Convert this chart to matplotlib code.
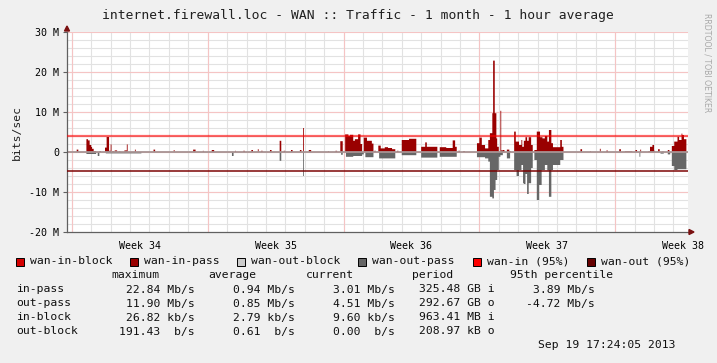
import numpy as np
import matplotlib
matplotlib.use("Agg")
import matplotlib.pyplot as plt
from matplotlib.patches import Rectangle, Polygon

W, H = 717, 363
MONO = "DejaVu Sans Mono"

# hourly runs: (start hour, end hour, Mb/s), hour 0 = left edge of the month window
in_pass_runs = [
    (12, 14, 0.6), (24, 26, 3.2), (26, 28, 2.9), (28, 30, 1.75), (30, 31, 1.25), (31, 33, 0.8),
    (33, 36, 0.25), (40, 42, 0.25), (47, 49, 1.1), (49, 52, 3.75), (52, 54, 0.3), (54, 55, 1.9),
    (56, 58, 0.25), (59, 62, 0.4), (64, 66, 0.15), (71, 74, 0.4), (74, 75, 1.9), (84, 85, 0.6),
    (107, 109, 0.6), (132, 133, 0.5), (156, 159, 0.6), (168, 169, 0.3), (179, 182, 0.5),
    (208, 209, 0.3), (218, 220, 0.3), (228, 230, 0.5), (236, 237, 0.7), (240, 242, 0.3),
    (251, 253, 0.5), (263, 265, 2.8), (268, 270, 0.3), (277, 279, 0.5), (288, 290, 0.5),
    (292, 293, 6.0), (299, 302, 0.5), (323, 324, 0.2), (332, 334, 0.3), (338, 341, 2.7),
    (344, 348, 4.4), (348, 350, 4.0), (350, 354, 4.3), (354, 356, 2.8), (356, 360, 3.2),
    (360, 363, 4.4), (363, 365, 2.0), (367, 371, 3.6), (371, 377, 2.8), (377, 379, 2.1),
    (380, 382, 0.3), (385, 388, 1.6), (388, 393, 0.9), (393, 397, 1.2), (397, 402, 1.0),
    (402, 406, 0.7), (408, 410, 0.3), (414, 423, 3.0), (423, 432, 3.3), (438, 443, 1.3),
    (443, 445, 2.4), (445, 458, 1.3), (461, 469, 1.2), (469, 477, 1.0), (477, 480, 2.9),
    (480, 482, 1.3), (484, 486, 0.3), (490, 492, 0.25), (507, 510, 2.2), (510, 513, 3.6),
    (513, 517, 1.75), (517, 521, 0.9), (521, 523, 3.0), (523, 526, 4.7), (526, 527, 9.7),
    (527, 529, 22.84), (529, 531, 9.7), (531, 532, 3.4), (532, 534, 1.3), (536, 537, 10.3),
    (537, 539, 0.4), (539, 541, 0.5), (544, 547, 0.6), (547, 549, 0.2), (553, 555, 5.1),
    (555, 559, 2.6), (559, 562, 1.75), (562, 563, 3.0), (563, 565, 1.3), (565, 567, 2.8),
    (567, 569, 3.7), (569, 571, 2.8), (571, 574, 3.7), (574, 576, 1.75), (578, 581, 0.5),
    (581, 585, 5.1), (585, 588, 3.7), (588, 591, 3.4), (591, 594, 4.0), (594, 596, 2.6),
    (596, 599, 5.5), (599, 601, 2.2), (601, 610, 1.2), (610, 612, 3.0), (612, 614, 1.3),
    (635, 637, 0.7), (647, 648, 0.2), (659, 660, 0.8), (667, 669, 0.35), (683, 685, 0.7),
    (690, 699, 0.2), (703, 705, 0.5), (709, 710, 0.6), (719, 721, 0.2), (721, 724, 1.3),
    (724, 726, 1.75), (726, 727, 0.3), (731, 733, 0.7), (736, 738, 0.1), (743, 745, 0.5),
    (748, 751, 1.5), (751, 755, 2.6), (755, 757, 3.8), (757, 760, 3.0), (760, 761, 4.6),
    (761, 763, 4.25), (763, 766, 3.2),
]

out_pass_runs = [
    (24, 36, 0.5), (38, 40, 1.0), (48, 92, 0.35), (204, 206, 1.0), (263, 265, 2.2),
    (292, 293, 6.0), (339, 341, 0.7), (345, 354, 1.2), (354, 365, 1.0), (365, 367, 0.6),
    (369, 379, 1.3), (386, 406, 1.6), (414, 432, 0.8), (438, 458, 1.4), (461, 482, 1.2),
    (507, 517, 1.3), (517, 521, 1.6), (521, 523, 2.4), (523, 526, 11.2), (526, 528, 11.6),
    (528, 530, 9.5), (530, 532, 7.0), (532, 534, 4.5), (534, 536, 1.2), (536, 539, 0.8),
    (544, 548, 1.6), (553, 556, 4.5), (556, 559, 6.0), (559, 562, 4.5), (562, 564, 3.25),
    (564, 565, 7.8), (565, 567, 8.0), (567, 569, 5.5), (569, 571, 10.5), (571, 574, 7.8),
    (574, 576, 4.0), (578, 581, 2.0), (581, 584, 12.0), (584, 587, 8.25), (587, 591, 4.5),
    (591, 594, 3.25), (594, 596, 4.6), (596, 599, 11.2), (599, 601, 4.5), (601, 610, 3.25),
    (610, 614, 2.0), (708, 709, 1.2), (734, 738, 0.4), (743, 746, 0.6), (748, 751, 3.5),
    (751, 755, 4.5), (755, 766, 4.3),
]

in_95 = 3.89
out_95 = -4.72

week_labels = ["Week 34", "Week 35", "Week 36", "Week 37", "Week 38"]
y_ticks = [-20, -10, 0, 10, 20, 30]
y_tick_labels = ["-20 M", "-10 M", "0", "10 M", "20 M", "30 M"]

legend_names = ["wan-in-block", "wan-in-pass", "wan-out-block", "wan-out-pass", "wan-in (95%)", "wan-out (95%)"]
legend_colors = ["#d40000", "#990000", "#cccccc", "#666666", "#ff0000", "#660000"]

headers = ["maximum", "average", "current", "period", "95th percentile"]
row_names = ["in-pass", "out-pass", "in-block", "out-block"]
row_values = [
    ["22.84 Mb/s", "0.94 Mb/s", "3.01 Mb/s", "325.48 GB i", "3.89 Mb/s"],
    ["11.90 Mb/s", "0.85 Mb/s", "4.51 Mb/s", "292.67 GB o", "-4.72 Mb/s"],
    ["26.82 kb/s", "2.79 kb/s", "9.60 kb/s", "963.41 MB i", ""],
    ["191.43  b/s", "0.61  b/s", "0.00  b/s", "208.97 kB o", ""],
]

HOURS = 768


def to_series(runs):
    vals = np.zeros(HOURS)
    for a, b, v in runs:
        vals[a:b] = v
    return vals


def fx(px):
    return px / W


def fy(py):
    return 1 - py / H


in_pass = to_series(in_pass_runs)
out_pass = to_series(out_pass_runs)
edges = np.arange(HOURS + 1)

fig = plt.figure(figsize=(W / 100, H / 100), dpi=100, facecolor="#f0f0f0")
ax = fig.add_axes([fx(67), fy(232), fx(688 - 67), (232 - 32) / H])
ax.set_facecolor("white")
ax.set_xlim(0, HOURS)
ax.set_ylim(-20, 30)

# grid: minor every day / 2 M, major every week / 10 M
for h in range(6, HOURS, 24):
    ax.axvline(h, color="#e2e2e2", lw=0.8, zorder=0)
for v in range(-18, 30, 2):
    ax.axhline(v, color="#e2e2e2", lw=0.8, zorder=0)
for h in range(6, HOURS, 168):
    ax.axvline(h, color="#f5c4c4", lw=0.8, zorder=0.5)
for v in range(-10, 31, 10):
    ax.axhline(v, color="#f5c4c4", lw=0.8, zorder=0.5)

ax.stairs(in_pass, edges, fill=True, color="#990000", baseline=0, zorder=2, lw=0)
ax.stairs(-out_pass, edges, fill=True, color="#666666", baseline=0, zorder=2, lw=0)
ax.axhline(0, color="#a89494", lw=1.3, zorder=2.5)

ax.axhline(in_95, color="#ff0000", lw=1.6, alpha=0.6, zorder=3)
ax.axhline(out_95, color="#7a0000", lw=1.2, alpha=0.9, zorder=3)

for s in ["top", "right"]:
    ax.spines[s].set_visible(False)
ax.spines["left"].set_color("#606060")
ax.spines["bottom"].set_color("#606060")
ax.spines["left"].set_linewidth(0.9)
ax.spines["bottom"].set_linewidth(0.9)

ax.set_yticks(y_ticks)
ax.set_yticklabels(y_tick_labels, fontfamily=MONO, fontsize=7.2)
ax.tick_params(axis="y", length=3, width=0.8, color="#606060", pad=2.5)
ax.set_xticks([90 + 168 * i for i in range(5)])
ax.set_xticklabels(week_labels, fontfamily=MONO, fontsize=7.2)
ax.tick_params(axis="x", length=0, pad=6.5)

# axis arrows
fig.add_artist(Polygon([[fx(64.5), fy(31)], [fx(69.5), fy(31)], [fx(67), fy(26)]],
                       closed=True, transform=fig.transFigure, color="#7a1010"))
fig.add_artist(Polygon([[fx(689), fy(229.5)], [fx(689), fy(234.5)], [fx(694), fy(232)]],
                       closed=True, transform=fig.transFigure, color="#7a1010"))

fig.text(fx(358), fy(16), "internet.firewall.loc - WAN :: Traffic - 1 month - 1 hour average",
         ha="center", va="center", fontfamily=MONO, fontsize=9.4, color="#202020")
fig.text(fx(17), fy(132), "bits/sec", rotation=90, ha="center", va="center",
         fontfamily=MONO, fontsize=8.2, color="#202020")
fig.text(fx(707), fy(63), "RRDTOOL / TOBI OETIKER", rotation=270, ha="center", va="center",
         fontsize=5.6, color="#a8a8a8")

# legend row
sq_x = [16, 130, 237, 358, 473, 587]
for x0, name, col in zip(sq_x, legend_names, legend_colors):
    fig.add_artist(Rectangle((fx(x0), fy(265.5)), 8 / W, 8 / H, transform=fig.transFigure,
                             facecolor=col, edgecolor="black", lw=0.7))
    fig.text(fx(x0 + 14), fy(261.5), name, ha="left", va="center", fontfamily=MONO,
             fontsize=8.2, color="#101010")

head_x = [111, 208, 306, 412, 510]
for x0, t in zip(head_x, headers):
    fig.text(fx(x0), fy(275.5), t, ha="left", va="center", fontfamily=MONO, fontsize=8.2,
             color="#101010")

col_right = [195, 295, 395, 495, 595]
for i, (name, vals) in enumerate(zip(row_names, row_values)):
    yy = 289.5 + 14 * i
    fig.text(fx(16), fy(yy), name, ha="left", va="center", fontfamily=MONO, fontsize=8.2,
             color="#101010")
    for xr, v in zip(col_right, vals):
        if v:
            fig.text(fx(xr), fy(yy), v, ha="right", va="center", fontfamily=MONO,
                     fontsize=8.2, color="#101010")

fig.text(fx(676), fy(345), "Sep 19 17:24:05 2013", ha="right", va="center",
         fontfamily=MONO, fontsize=8.2, color="#101010")

fig.savefig("out.png", dpi=100, facecolor=fig.get_facecolor())
